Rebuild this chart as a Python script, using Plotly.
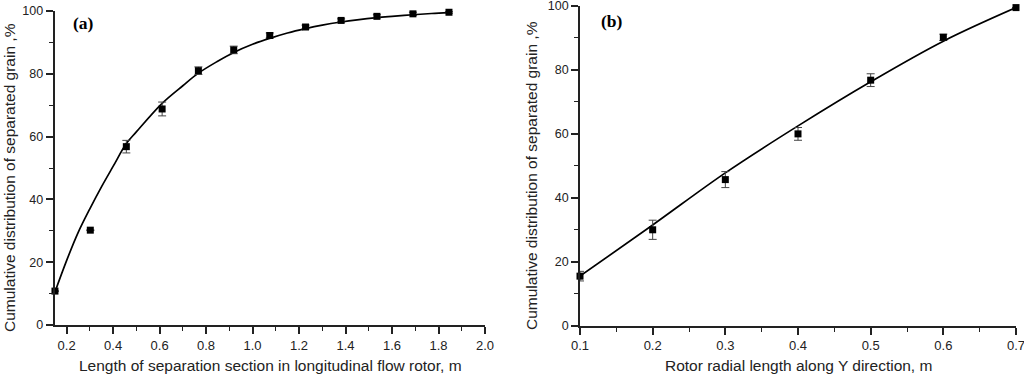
import plotly.graph_objects as go

# ---- panel (a) data ----
a_x = [0.15, 0.302, 0.457, 0.611, 0.767, 0.919, 1.074, 1.228, 1.381, 1.535, 1.690, 1.845]
a_y = [10.8, 30.2, 56.8, 68.8, 81.0, 87.6, 92.2, 94.9, 97.0, 98.3, 99.1, 99.6]
a_err = [0.0, 0.0, 2.0, 2.2, 1.2, 1.2, 0.8, 0.6, 0.5, 0.5, 0.5, 0.3]
a_fit_x = [0.15, 0.2, 0.25, 0.3, 0.35, 0.4, 0.457, 0.5, 0.611, 0.7, 0.767, 0.85, 0.919,
           1.0, 1.074, 1.15, 1.228, 1.3, 1.381, 1.45, 1.535, 1.6, 1.690, 1.77, 1.845]
a_fit_y = [10.5, 20.5, 29.5, 37.0, 44.0, 50.5, 57.8, 61.5, 70.6, 76.2, 80.2, 84.0, 86.8,
           89.4, 91.3, 93.0, 94.4, 95.5, 96.5, 97.2, 97.9, 98.3, 98.8, 99.2, 99.5]

# ---- panel (b) data ----
b_x = [0.1, 0.2, 0.3, 0.4, 0.5, 0.6, 0.7]
b_y = [15.5, 30.0, 45.7, 60.0, 76.8, 90.2, 99.5]
b_err = [1.5, 3.0, 2.5, 2.0, 2.0, 1.0, 0.0]
b_fit_x = [0.1, 0.2, 0.3, 0.4, 0.5, 0.6, 0.7]
b_fit_y = [15.5, 31.5, 47.8, 62.5, 76.3, 89.0, 99.5]

a_xticks = [0.2, 0.4, 0.6, 0.8, 1.0, 1.2, 1.4, 1.6, 1.8, 2.0]
b_xticks = [0.1, 0.2, 0.3, 0.4, 0.5, 0.6, 0.7]
y_ticks = [0, 20, 40, 60, 80, 100]

ylab = "Cumulative distribution of separated grain ,%"
a_xlab = "Length of separation section in longitudinal flow rotor, m"
b_xlab = "Rotor radial length along Y direction, m"

W, H = 1024, 375


def px_x(p):
    return p / W


def px_y(p):
    return 1 - p / H


fig = go.Figure()
line_style = dict(color="black", width=1.7)
mk = dict(symbol="square", size=7, color="black")
eb = dict(color="#444444", thickness=1, width=4)

fig.add_trace(go.Scatter(x=a_fit_x, y=a_fit_y, mode="lines", line=dict(shape="spline", **line_style),
                         xaxis="x", yaxis="y", cliponaxis=False, showlegend=False))
fig.add_trace(go.Scatter(x=a_x, y=a_y, mode="markers", marker=mk,
                         error_y=dict(type="data", array=a_err, visible=True, **eb),
                         xaxis="x", yaxis="y", cliponaxis=False, showlegend=False))
fig.add_trace(go.Scatter(x=b_fit_x, y=b_fit_y, mode="lines", line=dict(shape="spline", **line_style),
                         xaxis="x2", yaxis="y2", cliponaxis=False, showlegend=False))
fig.add_trace(go.Scatter(x=b_x, y=b_y, mode="markers", marker=mk,
                         error_y=dict(type="data", array=b_err, visible=True, **eb),
                         xaxis="x2", yaxis="y2", cliponaxis=False, showlegend=False))

xtickfont = dict(family="Liberation Sans, Arial", size=13, color="#222222")
ytickfont = dict(family="Liberation Sans, Arial", size=12.5, color="#222222")
axis_common = dict(showline=True, linecolor="#222222", linewidth=1.8, ticks="outside",
                   ticklen=7, tickwidth=1.5, tickcolor="#222222", showgrid=False,
                   zeroline=False, mirror=False, automargin=False,
                   ticklabeloverflow="allow")
minor_common = dict(ticks="outside", ticklen=4, tickwidth=1.3, tickcolor="#222222")

fig.update_layout(
    template="none",
    width=W, height=H,
    margin=dict(l=0, r=0, t=0, b=0, autoexpand=False),
    paper_bgcolor="white", plot_bgcolor="white",
    xaxis=dict(domain=[px_x(54.5), px_x(485)], range=[0.148, 2.0], anchor="y",
               tickvals=a_xticks, ticktext=[f"{v:.1f}" for v in a_xticks], tickfont=xtickfont,
               minor=dict(dtick=0.1, tick0=0.1, **minor_common),
               **axis_common),
    yaxis=dict(domain=[px_y(325), px_y(11)], range=[0, 100], anchor="x",
               tickvals=y_ticks, tickfont=ytickfont,
               minor=dict(dtick=10, tick0=0, **minor_common),
               **axis_common),
    xaxis2=dict(domain=[px_x(580), px_x(1016)], range=[0.1, 0.7], anchor="y2",
                tickvals=b_xticks, ticktext=[f"{v:.1f}" for v in b_xticks], tickfont=xtickfont,
                minor=dict(dtick=0.05, tick0=0.1, **minor_common),
                **axis_common),
    yaxis2=dict(domain=[px_y(325.7), px_y(6)], range=[0, 100], anchor="x2",
                tickvals=y_ticks, tickfont=ytickfont,
                minor=dict(dtick=10, tick0=0, **minor_common),
                **axis_common),
)

tfont = dict(family="Liberation Sans, Arial", size=15.5, color="#222222")
pfont = dict(family="Liberation Serif, Times New Roman", size=17.5, color="black")
ann = [
    dict(text=ylab, x=px_x(9), y=px_y(178), textangle=-90, font=tfont),
    dict(text=ylab, x=px_x(531.5), y=px_y(175.5), textangle=-90, font=tfont),
    dict(text=a_xlab, x=px_x(270), y=px_y(365), font=tfont),
    dict(text=b_xlab, x=px_x(798), y=px_y(365), font=tfont),
    dict(text="<b>(a)</b>", x=px_x(83), y=px_y(22.5), font=pfont),
    dict(text="<b>(b)</b>", x=px_x(611.5), y=px_y(21), font=pfont),
]
for a in ann:
    fig.add_annotation(xref="paper", yref="paper", showarrow=False,
                       xanchor="center", yanchor="middle", **a)

fig.write_html("out.html", config={"displayModeBar": False},
               post_script="document.body.style.margin='0';")
